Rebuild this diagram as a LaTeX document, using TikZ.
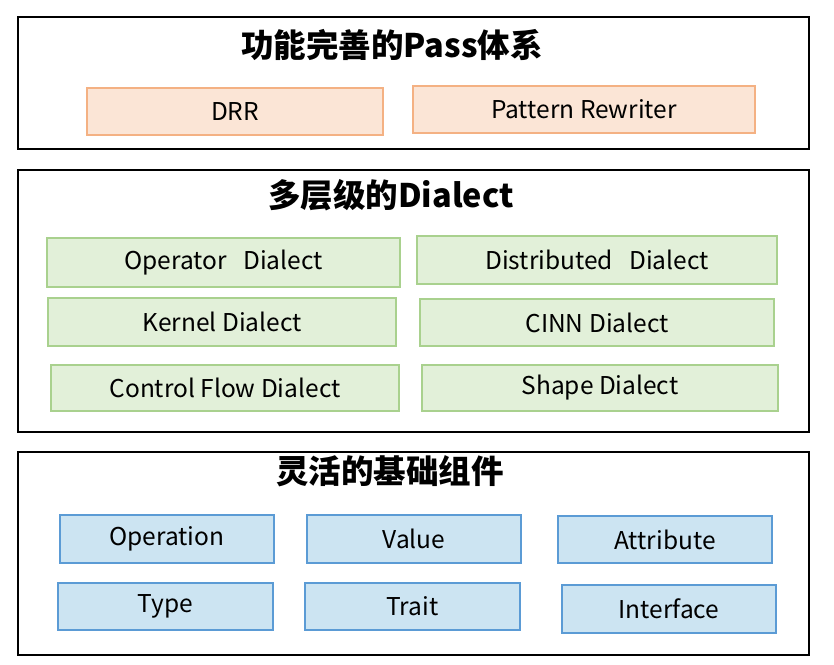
\documentclass[tikz,border=0pt]{standalone}
\usepackage{fontspec}
\setmainfont{Noto Sans CJK SC}
\newfontfamily\cjkbold{Noto Sans CJK SC Black}
\definecolor{peachfill}{HTML}{FBE5D6}
\definecolor{peachdraw}{HTML}{F4B183}
\definecolor{greenfill}{HTML}{E2F0D9}
\definecolor{greendraw}{HTML}{A9D18E}
\definecolor{bluefill}{HTML}{CCE4F2}
\definecolor{bluedraw}{HTML}{5B9BD5}
\tikzset{
  panel/.style={draw=black, line width=1.5pt, inner sep=0pt},
  paneltitle/.style={font=\cjkbold\fontsize{32.5}{36}\selectfont, inner sep=0pt},
  itembox/.style={line width=1.8pt, inner sep=0pt, font=\fontsize{24.5}{28}\selectfont},
  passbox/.style={itembox, draw=peachdraw, fill=peachfill},
  dialbox/.style={itembox, draw=greendraw, fill=greenfill},
  compbox/.style={itembox, draw=bluedraw, fill=bluefill},
}
\begin{document}
\begin{tikzpicture}[x=1pt,y=-1pt]
\useasboundingbox[fill=white] (0,0) rectangle (834,664);
% panels
\node[panel, minimum width=791pt, minimum height=132pt] (p1) at (413.5,83) {};
\node[panel, minimum width=791pt, minimum height=262pt] (p2) at (413.5,301) {};
\node[panel, minimum width=791pt, minimum height=203pt] (p3) at (413.5,553.5) {};
% titles
\node[paneltitle] (t1) at (392,45) {功能完善的Pass体系};
\node[paneltitle] (t2) at (391,195) {多层级的Dialect};
\node[paneltitle] (t3) at (390,471) {灵活的基础组件};
% pass boxes
\node[passbox, minimum width=296pt, minimum height=47pt] (drr) at (235,111.5) {DRR};
\node[passbox, minimum width=342pt, minimum height=47pt] (pr) at (584,109.5) {Pattern Rewriter};
% dialect boxes
\node[dialbox, minimum width=353pt, minimum height=49pt] (op) at (223.5,262.5) {Operator\ \ \ Dialect};
\node[dialbox, minimum width=360pt, minimum height=48pt] (dist) at (597,260) {Distributed\ \ \ Dialect};
\node[dialbox, minimum width=348pt, minimum height=48pt] (kern) at (222,322) {Kernel Dialect};
\node[dialbox, minimum width=354pt, minimum height=47pt] (cinn) at (597,322.5) {CINN Dialect};
\node[dialbox, minimum width=348pt, minimum height=46pt] (cf) at (225,388) {Control Flow Dialect};
\node[dialbox, minimum width=356pt, minimum height=46pt] (shape) at (600,388) {Shape Dialect};
% component boxes
\node[compbox, minimum width=214pt, minimum height=48pt] (oper) at (167,539) {Operation};
\node[compbox, minimum width=214pt, minimum height=48pt] (val) at (414,539) {Value};
\node[compbox, minimum width=214pt, minimum height=47pt] (attr) at (665,539.5) {Attribute};
\node[compbox, minimum width=215pt, minimum height=47pt] (type) at (165.5,606.5) {Type};
\node[compbox, minimum width=215pt, minimum height=47pt] (trait) at (412.5,606.5) {Trait};
\node[compbox, minimum width=214pt, minimum height=48pt] (intf) at (669,609) {Interface};
\end{tikzpicture}
\end{document}
